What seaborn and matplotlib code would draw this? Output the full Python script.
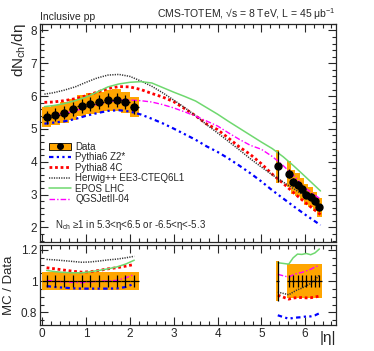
import matplotlib
matplotlib.use('Agg')
import matplotlib.pyplot as plt
import seaborn as sns
import pandas as pd
from matplotlib.lines import Line2D
from matplotlib.patches import Patch
from matplotlib.ticker import MultipleLocator

# measured data, central region (|eta| < 2.2)
eta_c = [0.1, 0.3, 0.5, 0.7, 0.9, 1.1, 1.3, 1.5, 1.7, 1.9, 2.1]
dndeta_c = [5.36, 5.43, 5.50, 5.60, 5.71, 5.77, 5.81, 5.87, 5.89, 5.81, 5.67]
halfw_c = [0.1, 0.1, 0.1, 0.1, 0.1, 0.1, 0.1, 0.1, 0.1, 0.1, 0.1]
stat_c = [0.037, 0.037, 0.037, 0.037, 0.037, 0.037, 0.037, 0.037, 0.037, 0.037, 0.037]
sys_c = [0.056, 0.056, 0.056, 0.056, 0.056, 0.056, 0.056, 0.056, 0.056, 0.056, 0.056]

# measured data, forward region (T2)
eta_f = [5.375, 5.625, 5.725, 5.825, 5.925, 6.025, 6.125, 6.225, 6.325]
dndeta_f = [3.86, 3.63, 3.39, 3.30, 3.16, 3.00, 2.93, 2.79, 2.61]
halfw_f = [0.03, 0.05, 0.05, 0.05, 0.05, 0.05, 0.05, 0.05, 0.05]
stat_f = [0.125, 0.037, 0.037, 0.037, 0.037, 0.037, 0.037, 0.037, 0.037]
sys_f = [0.128, 0.107, 0.107, 0.107, 0.107, 0.107, 0.107, 0.107, 0.107]

# MC predictions
eta_mc = [0.05, 0.25, 0.5, 0.75, 1.0, 1.25, 1.5, 1.75, 2.0, 2.25, 2.5, 2.75, 3.0,
          3.25, 3.5, 3.75, 4.0, 4.25, 4.5, 4.75, 5.0, 5.25, 5.5, 5.75, 6.0, 6.35]
pythia6 = [5.16, 5.19, 5.23, 5.30, 5.40, 5.48, 5.55, 5.57, 5.53, 5.44, 5.31, 5.17, 5.01,
           4.84, 4.67, 4.47, 4.30, 4.10, 3.88, 3.65, 3.40, 3.13, 2.88, 2.63, 2.39, 2.07]
pythia8 = [5.81, 5.82, 5.86, 5.92, 6.01, 6.12, 6.23, 6.29, 6.28, 6.20, 6.08, 5.97, 5.83,
           5.62, 5.40, 5.15, 4.98, 4.72, 4.45, 4.22, 3.94, 3.62, 3.34, 3.04, 2.76, 2.39]
herwig = [6.06, 6.10, 6.18, 6.28, 6.42, 6.55, 6.64, 6.66, 6.60, 6.46, 6.30, 6.10, 5.88,
          5.65, 5.40, 5.13, 4.88, 4.62, 4.36, 4.09, 3.84, 3.60, 3.38, 3.17, 2.95, 2.62]
epos = [5.68, 5.71, 5.77, 5.86, 5.97, 6.12, 6.28, 6.37, 6.42, 6.44, 6.40, 6.26, 6.12,
        5.99, 5.85, 5.65, 5.45, 5.23, 5.02, 4.81, 4.60, 4.40, 4.15, 3.86, 3.55, 3.11]
qgsjet = [5.38, 5.42, 5.47, 5.55, 5.65, 5.74, 5.82, 5.88, 5.88, 5.86, 5.82, 5.74, 5.64,
          5.52, 5.39, 5.24, 5.09, 4.88, 4.68, 4.50, 4.38, 4.16, 3.88, 3.56, 3.20, 2.86]

# MC / data ratios
ratio_c = {
    'Pythia6 Z2*': [0.968, 0.962, 0.958, 0.954, 0.952, 0.952, 0.952, 0.952, 0.953, 0.962, 0.983],
    'Pythia8 4C': [1.085, 1.078, 1.070, 1.063, 1.057, 1.060, 1.068, 1.078, 1.085, 1.095, 1.106],
    'Herwig++ EE3-CTEQ6L1': [1.138, 1.135, 1.130, 1.125, 1.120, 1.122, 1.128, 1.135, 1.140, 1.148, 1.158],
    'EPOS LHC': [1.068, 1.060, 1.055, 1.053, 1.053, 1.060, 1.068, 1.078, 1.090, 1.108, 1.133],
    'QGSJetII-04': [1.004, 1.000, 0.995, 0.992, 0.990, 0.995, 1.000, 1.000, 1.005, 1.020, 1.042],
}
ratio_f = {
    'Pythia6 Z2*': [0.782, 0.760, 0.765, 0.768, 0.770, 0.775, 0.775, 0.782, 0.795],
    'Pythia8 4C': [0.910, 0.885, 0.892, 0.895, 0.895, 0.893, 0.894, 0.898, 0.905],
    'Herwig++ EE3-CTEQ6L1': [0.930, 0.913, 0.930, 0.945, 0.955, 0.970, 0.985, 1.005, 1.040],
    'EPOS LHC': [1.117, 1.108, 1.148, 1.172, 1.170, 1.176, 1.168, 1.180, 1.205],
    'QGSJetII-04': [1.043, 1.025, 1.040, 1.050, 1.055, 1.065, 1.075, 1.090, 1.100],
}

models = ['Pythia6 Z2*', 'Pythia8 4C', 'Herwig++ EE3-CTEQ6L1', 'EPOS LHC', 'QGSJetII-04']
mc_values = [pythia6, pythia8, herwig, epos, qgsjet]
styles = {
    'Pythia6 Z2*': dict(color='#0000ff', ls=(0, (2, 1.5, 1, 1.5, 1, 1.5)), lw=1.6),
    'Pythia8 4C': dict(color='#ff0000', ls=(0, (1, 1)), lw=2.0),
    'Herwig++ EE3-CTEQ6L1': dict(color='#333333', ls=(0, (0.8, 0.8)), lw=1.1),
    'EPOS LHC': dict(color='#6fd86f', ls='-', lw=1.1),
    'QGSJetII-04': dict(color='#ff00ff', ls=(0, (4, 1.5, 1, 1.5)), lw=1.0),
}
ORANGE = '#ffa500'

sns.set_style('ticks')
plt.rcParams['font.family'] = ['Liberation Sans', 'DejaVu Sans']
plt.rcParams['mathtext.fontset'] = 'custom'
plt.rcParams['mathtext.rm'] = 'Liberation Sans'
plt.rcParams['mathtext.it'] = 'Liberation Sans:italic'

fig = plt.figure(figsize=(3.74, 3.51), dpi=100)
ax = fig.add_axes([0.107, 0.310, 0.791, 0.622])
axr = fig.add_axes([0.107, 0.074, 0.791, 0.228])

mc = pd.DataFrame({'eta': eta_mc})
for name, vals in zip(models, mc_values):
    mc[name] = vals


def draw_data(axe, eta, val, hw, stat, sys, ratio):
    for e, v, w, st, sy in zip(eta, val, hw, stat, sys):
        c = 1.0 if ratio else v
        axe.bar(e, 2 * sy * c, bottom=c - sy * c, width=2 * w, color=ORANGE,
                linewidth=0, zorder=1)
        axe.errorbar(e, c, xerr=w, yerr=st * c, fmt='o' if not ratio else 'none',
                     color='black', ms=5, elinewidth=0.9, capsize=0, zorder=5)


draw_data(ax, eta_c, dndeta_c, halfw_c, stat_c, sys_c, False)
draw_data(ax, eta_f, dndeta_f, halfw_f, stat_f, sys_f, False)
draw_data(axr, eta_c, dndeta_c, halfw_c, stat_c, sys_c, True)
draw_data(axr, eta_f, dndeta_f, halfw_f, stat_f, sys_f, True)

for name in models:
    st = styles[name]
    sns.lineplot(data=mc, x='eta', y=name, ax=ax, color=st['color'], lw=st['lw'],
                 linestyle=st['ls'], estimator=None, sort=False, zorder=3)
    sns.lineplot(x=eta_c, y=ratio_c[name], ax=axr, color=st['color'], lw=st['lw'],
                 linestyle=st['ls'], estimator=None, sort=False, zorder=3)
    sns.lineplot(x=eta_f, y=ratio_f[name], ax=axr, color=st['color'], lw=st['lw'],
                 linestyle=st['ls'], estimator=None, sort=False, zorder=3)

for a in (ax, axr):
    a.set_xlim(-0.05, 6.7)
    a.xaxis.set_major_locator(MultipleLocator(1))
    a.xaxis.set_minor_locator(MultipleLocator(0.2))
    a.tick_params(which='both', direction='in', top=True, right=True, labelsize=8.5,
                  width=0.8, pad=2)
    a.tick_params(which='major', length=6)
    a.tick_params(which='minor', length=3)
    for s in a.spines.values():
        s.set_linewidth(0.9)

ax.set_ylim(1.55, 8.2)
ax.yaxis.set_major_locator(MultipleLocator(1))
ax.yaxis.set_minor_locator(MultipleLocator(0.2))
ax.tick_params(labelbottom=False)
ax.set_xlabel(None)
ax.set_ylabel(r'dN$_{\mathrm{ch}}$/dη', fontsize=11, loc='top', labelpad=2)

axr.set_ylim(0.72, 1.23)
axr.yaxis.set_major_locator(MultipleLocator(0.2))
axr.yaxis.set_minor_locator(MultipleLocator(0.05))
axr.set_yticks([0.8, 1.0, 1.2], ['0.8', '1', '1.2'])
axr.set_ylabel('MC / Data', fontsize=9.5, labelpad=4)
axr.set_xlabel(None)
axr.text(1.0, -0.08, '|η|', transform=axr.transAxes, fontsize=11,
         ha='right', va='top')

handles = [(Patch(facecolor=ORANGE, edgecolor='black', linewidth=0.6),
            Line2D([], [], marker='o', color='black', ls='none', ms=4))]
for name in models:
    st = styles[name]
    handles.append(Line2D([], [], color=st['color'], lw=st['lw'], ls=st['ls']))
ax.legend(handles, ['Data'] + models, loc='upper left', bbox_to_anchor=(0.03, 0.46),
          frameon=False, fontsize=7, handlelength=2.3, handletextpad=0.4,
          labelspacing=0.05, borderaxespad=0, borderpad=0)

ax.text(0.05, 0.08, r'N$_{\mathrm{ch}}$ ≥1 in 5.3<η<6.5 or -6.5<η<-5.3',
        transform=ax.transAxes, fontsize=7, va='center')
fig.text(0.107, 0.938, 'Inclusive pp', fontsize=7.5, ha='left', va='bottom')
fig.text(0.898, 0.938, r'CMS-TOTEM, √s = 8 TeV, L = 45 μb$^{\mathrm{-1}}$',
         fontsize=7.5, ha='right', va='bottom')

fig.savefig('out.png', dpi=100)
